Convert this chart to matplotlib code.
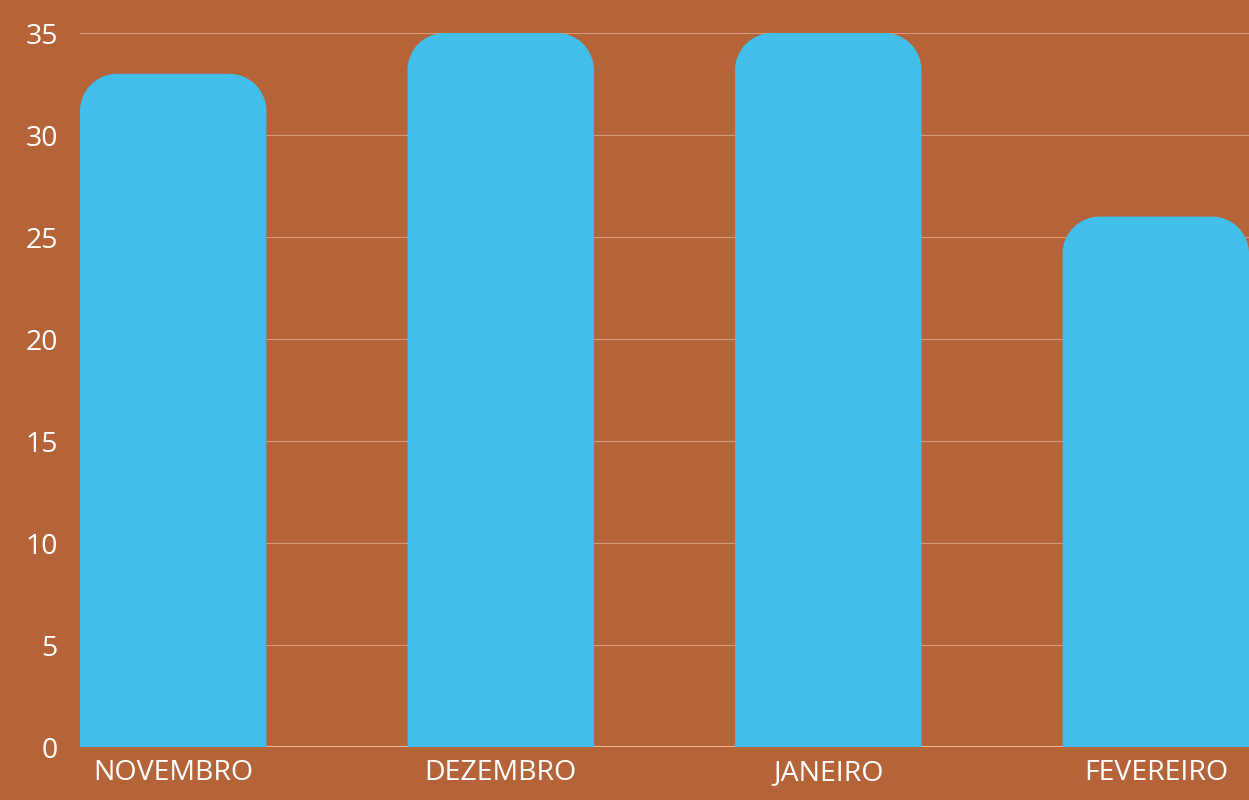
import matplotlib
matplotlib.use("Agg")
import matplotlib.pyplot as plt
from matplotlib.path import Path
from matplotlib.patches import PathPatch

months = ['NOVEMBRO', 'DEZEMBRO', 'JANEIRO', 'FEVEREIRO']
values = [33, 35, 35, 26]
yticks = [0, 5, 10, 15, 20, 25, 30, 35]

BG = '#B5643A'
BAR = '#41BFE8'
TXT = '#FFFFFF'

plt.rcParams['font.family'] = ['Open Sans', 'DejaVu Sans']

fig = plt.figure(figsize=(12.49, 8), dpi=100, facecolor=BG)
ax = fig.add_axes([80/1249, 53/800, 1169/1249, 714/800])
ax.set_facecolor(BG)

width = 0.569
x = list(range(len(months)))
ax.set_xlim(-width/2, x[-1] + width/2)
ax.set_ylim(0, 35)

# grid
for t in yticks[1:]:
    ax.axhline(t, color='#D99A7C', lw=0.8, zorder=0)
ax.axhline(0, color='#F2B592', lw=1.5, zorder=0)

# rounded-top bars, radius in pixels
fig.canvas.draw()
r_px = 37
px_x = ax.transData.transform((1, 0))[0] - ax.transData.transform((0, 0))[0]
px_y = ax.transData.transform((0, 1))[1] - ax.transData.transform((0, 0))[1]
rx = r_px / px_x
ry = r_px / px_y
k = 0.5523
for xi, v in zip(x, values):
    l, r = xi - width/2, xi + width/2
    verts = [
        (l, 0), (l, v - ry),
        (l, v - ry + k*ry), (l + rx - k*rx, v), (l + rx, v),
        (r - rx, v),
        (r - rx + k*rx, v), (r, v - ry + k*ry), (r, v - ry),
        (r, 0), (l, 0),
    ]
    codes = [Path.MOVETO, Path.LINETO,
             Path.CURVE4, Path.CURVE4, Path.CURVE4,
             Path.LINETO,
             Path.CURVE4, Path.CURVE4, Path.CURVE4,
             Path.LINETO, Path.CLOSEPOLY]
    ax.add_patch(PathPatch(Path(verts, codes), facecolor=BAR, edgecolor='none', zorder=2))

ax.set_xticks(x)
ax.set_xticklabels(months)
ax.set_yticks(yticks)
ax.tick_params(axis='both', length=0, colors=TXT, labelsize=20.5)
ax.tick_params(axis='x', pad=9)
ax.tick_params(axis='y', pad=16)
for s in ax.spines.values():
    s.set_visible(False)

plt.savefig('out.png', dpi=100, facecolor=BG)
